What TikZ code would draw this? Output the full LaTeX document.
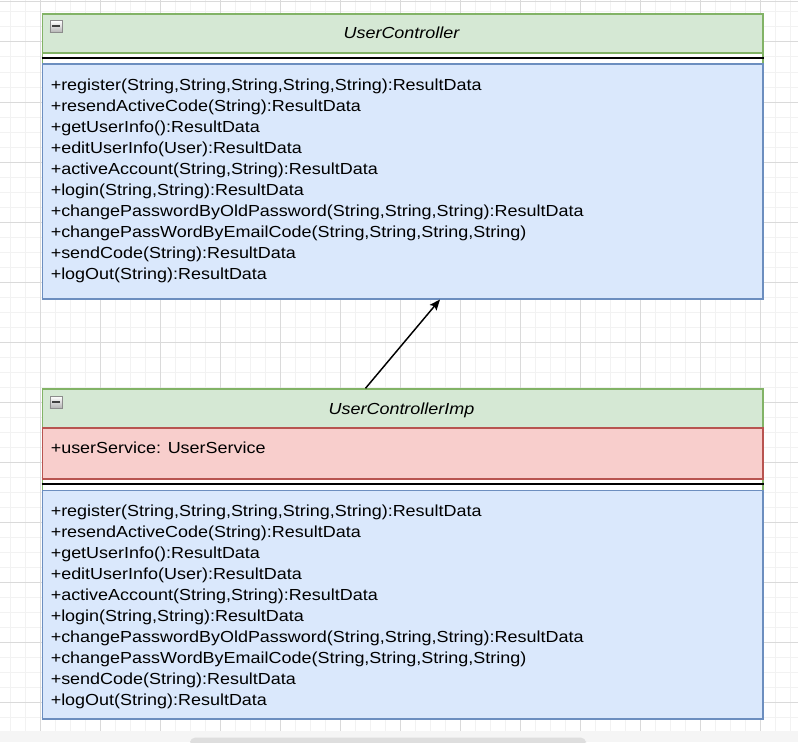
\documentclass[tikz,border=0pt]{standalone}
\usepackage{fontspec}
\setmainfont{Liberation Sans}[FakeStretch=1.123]
\usetikzlibrary{calc,arrows.meta}
\definecolor{headfill}{HTML}{D5E8D4}
\definecolor{headline}{HTML}{82B366}
\definecolor{opsfill}{HTML}{DAE8FC}
\definecolor{opsline}{HTML}{6C8EBF}
\definecolor{attrfill}{HTML}{F8CECC}
\definecolor{attrline}{HTML}{B85450}
\definecolor{minorgrid}{HTML}{F2F2F2}
\definecolor{majorgrid}{HTML}{DADADA}
\tikzstyle{frame}=[draw=headline,fill=white,line width=1.1pt,anchor=north west,inner sep=0pt,minimum width=540.4pt]
\tikzstyle{head}=[frame,fill=headfill,minimum height=29.25pt]
\tikzstyle{opsbox}=[draw=opsline,fill=opsfill,line width=1.1pt,anchor=north west,inner sep=0pt,minimum width=540.4pt]
\tikzstyle{attrbox}=[draw=attrline,fill=attrfill,line width=1.1pt,anchor=north west,inner sep=0pt,minimum width=540.4pt,minimum height=38.25pt]
\tikzstyle{member}=[anchor=base west,inner sep=0pt,font=\fontsize{12}{14}\selectfont]
\tikzstyle{title}=[anchor=base,inner sep=0pt,font=\fontsize{12}{14}\selectfont\itshape]
\tikzstyle{toggle}=[draw=black!45,top color=white,bottom color=black!30,anchor=north west,minimum size=9pt,inner sep=0pt,line width=0.6pt]
\tikzstyle{edge}=[draw,line width=1.1pt,-{Stealth[length=8pt,width=6.5pt,inset=1.5pt]}]

\begin{document}
\begin{tikzpicture}[x=0.75pt,y=-0.75pt]
    \useasboundingbox (0,0) rectangle (798,742);

    % grid
    \foreach \x in {10,25,...,790} \draw[minorgrid,line width=0.75pt] (\x,0) -- (\x,731);
    \foreach \y in {12,27,...,727} \draw[minorgrid,line width=0.75pt] (0,\y) -- (798,\y);
    \foreach \x in {40,100,...,760} \draw[majorgrid,line width=0.75pt] (\x,0) -- (\x,731);
    \foreach \y in {2,42,102,...,702} \draw[majorgrid,line width=0.75pt] (0,\y) -- (798,\y);
    \fill[black!4] (0,731) rectangle (798,742);
    \fill[black!13,rounded corners=4pt] (190,737.5) rectangle (586,746);

    % UserController
    \node[frame,minimum height=213.75pt] (ctrl) at (41.5,13.3) {};
    \node[head] (ctrlhead) at (41.5,13.3) {};
    \node[toggle] (ctrltoggle) at (49.5,20.3) {\textcolor{black!75}{\rule[0.4pt]{5.5pt}{1.4pt}}};
    \node[title] (ctrlname) at (401.5,38.7) {UserController};
    \draw[line width=1.3pt] (ctrl.west |- 0,58.3) -- (ctrl.east |- 0,58.3);
    \node[opsbox,minimum height=175.9pt] (ctrlops) at (41.5,63.5) {};

    % UserControllerImp
    \node[frame,minimum height=247.3pt] (imp) at (41.5,388.3) {};
    \node[head] (imphead) at (41.5,388.3) {};
    \node[toggle] (imptoggle) at (49.5,395.8) {\textcolor{black!75}{\rule[0.4pt]{5.5pt}{1.4pt}}};
    \node[title] (impname) at (401.5,414.5) {UserControllerImp};
    \node[attrbox] (impattr) at (41.5,427.3) {};
    \node[member] (impfield) at (50.5,453.7) {+userService: UserService};
    \draw[line width=1.3pt] (imp.west |- 0,484.3) -- (imp.east |- 0,484.3);
    \node[opsbox,minimum height=171.2pt] (impops) at (41.5,490) {};

    % operations of both classes
    \foreach \cls/\base in {ctrl/90.5,imp/516.7}
        \foreach \op [count=\i] in {{+register(String,String,String,String,String):ResultData},
            {+resendActiveCode(String):ResultData}, {+getUserInfo():ResultData},
            {+editUserInfo(User):ResultData}, {+activeAccount(String,String):ResultData},
            {+login(String,String):ResultData},
            {+changePasswordByOldPassword(String,String,String):ResultData},
            {+changePassWordByEmailCode(String,String,String,String)},
            {+sendCode(String):ResultData}, {+logOut(String):ResultData}}
            \node[member] (\cls op\i) at (50.5,{\base+21*(\i-1)}) {\op};

    \path[edge] ($(imphead.north)+(-37,0)$) -- ($(ctrlops.south)+(37.5,0)$);
\end{tikzpicture}
\end{document}
